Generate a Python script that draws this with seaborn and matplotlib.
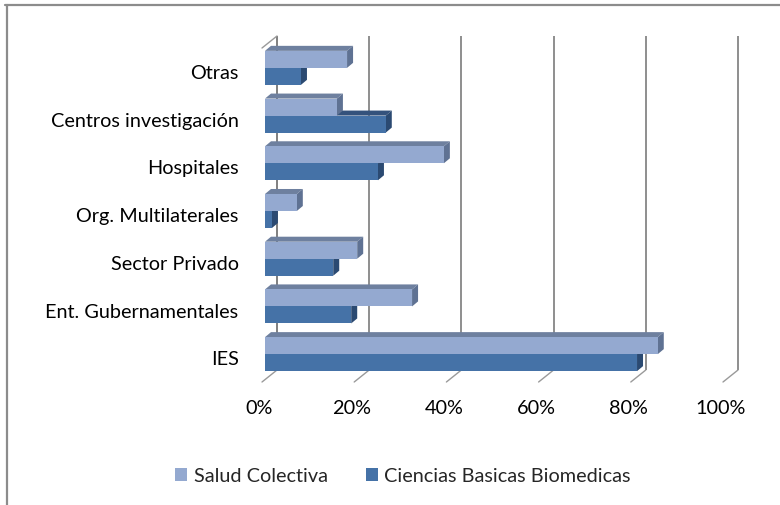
import numpy as np
import pandas as pd
import matplotlib
matplotlib.use("Agg")
import matplotlib.pyplot as plt
import seaborn as sns
from matplotlib.patches import Polygon
from matplotlib.lines import Line2D
from matplotlib.transforms import ScaledTranslation, offset_copy

# ---------------- data ----------------
categories = ["Otras", "Centros investigación", "Hospitales", "Org. Multilaterales",
              "Sector Privado", "Ent. Gubernamentales", "IES"]
series_names = ["Salud Colectiva", "Ciencias Basicas Biomedicas"]
salud = [17.8, 15.6, 38.8, 6.9, 20.0, 31.9, 85.2]
ciencias = [7.8, 26.2, 24.5, 1.5, 14.8, 18.7, 80.7]
x_ticks = [0, 20, 40, 60, 80, 100]
x_ticklabels = ["0%", "20%", "40%", "60%", "80%", "100%"]

df = pd.DataFrame({
    "categoria": categories * 2,
    "valor": salud + ciencias,
    "serie": [series_names[0]] * len(categories) + [series_names[1]] * len(categories),
})

# ---------------- style ----------------
sns.set_theme(style="white")
plt.rcParams["font.family"] = ["Lato", "DejaVu Sans"]
FS = 14.3

front_colors = {"Salud Colectiva": "#94a9d0", "Ciencias Basicas Biomedicas": "#4572a7"}
top_colors = ["#6e809f", "#34527c"]
side_colors = ["#5f7293", "#2b4a72"]

fig = plt.figure(figsize=(7.8, 5.05), dpi=100)
W, H = 780, 505
ax = fig.add_axes([265 / W, 1 - 378 / H, 461 / W, (378 - 44) / H])

sns.barplot(data=df, x="valor", y="categoria", hue="serie", orient="h",
            hue_order=series_names, order=categories, palette=front_colors,
            saturation=1, width=0.713, dodge=True, ax=ax, linewidth=0, legend=True)

ax.set_xlim(0, 100)
ax.set_ylim(6.5, -0.5)
for s in ax.spines.values():
    s.set_visible(False)
ax.set_xlabel("")
ax.set_ylabel("")
ax.set_xticks(x_ticks)
ax.set_xticklabels(x_ticklabels)
ax.tick_params(axis="x", length=0, pad=16, labelsize=FS, colors="#000000")
ax.tick_params(axis="y", length=0, pad=19, labelsize=FS, colors="#000000")
ax.grid(False)

# tick label nudges (front plane vs bar plane)
for lbl in ax.get_xticklabels():
    lbl.set_transform(lbl.get_transform() + ScaledTranslation(-4 / 72, 0, fig.dpi_scale_trans))
for lbl in ax.get_yticklabels():
    lbl.set_transform(lbl.get_transform() + ScaledTranslation(0, -3 / 72, fig.dpi_scale_trans))

# ---------------- pseudo 3D ----------------
fig.canvas.draw()
inv = ax.transData.inverted()
DX, DY = 6, 5

def to_data(pts):
    return inv.transform(np.array(pts))

for si, cont in enumerate(ax.containers):
    front_z = 2.2 if si == 0 else 2.0
    face_z = 2.1 if si == 0 else 1.6
    for bar in cont:
        bar.set_zorder(front_z)
        x0 = bar.get_x()
        x1 = x0 + bar.get_width()
        ya = bar.get_y()
        yb = ya + bar.get_height()
        ytop = min(ya, yb)
        ybot = max(ya, yb)
        p_tl = ax.transData.transform((x0, ytop))
        p_tr = ax.transData.transform((x1, ytop))
        p_br = ax.transData.transform((x1, ybot))
        off = np.array([DX, DY])
        top = to_data([p_tl, p_tr, p_tr + off, p_tl + off])
        side = to_data([p_tr, p_br, p_br + off, p_tr + off])
        ax.add_patch(Polygon(top, closed=True, facecolor=top_colors[si], edgecolor="none",
                             zorder=face_z, clip_on=False))
        ax.add_patch(Polygon(side, closed=True, facecolor=side_colors[si], edgecolor="none",
                             zorder=face_z, clip_on=False))

# back wall gridlines
BX, BY = 12, 8
FX, FY = -3, -4
back = offset_copy(ax.transData, fig=fig, x=BX, y=BY, units="dots")
ylo, yhi = ax.get_ylim()
for t in x_ticks:
    col = "#7f7f7f" if t == 0 else "#8e8e8e"
    ax.plot([t, t], [ylo, yhi], transform=back, color=col, lw=1.4, zorder=0.5,
            clip_on=False, solid_capstyle="butt")
    pb = ax.transData.transform((t, ylo))
    d = to_data([pb + np.array([BX, BY]), pb + np.array([FX, FY])])
    ax.plot(d[:, 0], d[:, 1], color="#9a9a9a", lw=1.0, zorder=0.5, clip_on=False)
# top-left wall diagonal
pt = ax.transData.transform((0, yhi))
d = to_data([pt + np.array([BX, BY]), pt + np.array([FX, FY])])
ax.plot(d[:, 0], d[:, 1], color="#9a9a9a", lw=1.0, zorder=0.5, clip_on=False)

# legend
handles, labels = ax.get_legend_handles_labels()
ax.legend_.remove()
fig.legend(handles, labels, loc="center", bbox_to_anchor=(403 / W, 1 - 476 / H),
           ncol=2, frameon=False, fontsize=FS, handlelength=0.6, handleheight=0.6,
           handletextpad=0.35, columnspacing=1.9, borderaxespad=0)

# chart border (partially cropped)
fig.add_artist(Line2D([5 / W, 1.0], [1 - 5 / H, 1 - 5 / H], transform=fig.transFigure,
                      color="#8c8c8c", lw=1.6))
fig.add_artist(Line2D([7 / W, 7 / W], [0, 1 - 5 / H], transform=fig.transFigure,
                      color="#8c8c8c", lw=1.6))

fig.savefig("out.png", dpi=100)
